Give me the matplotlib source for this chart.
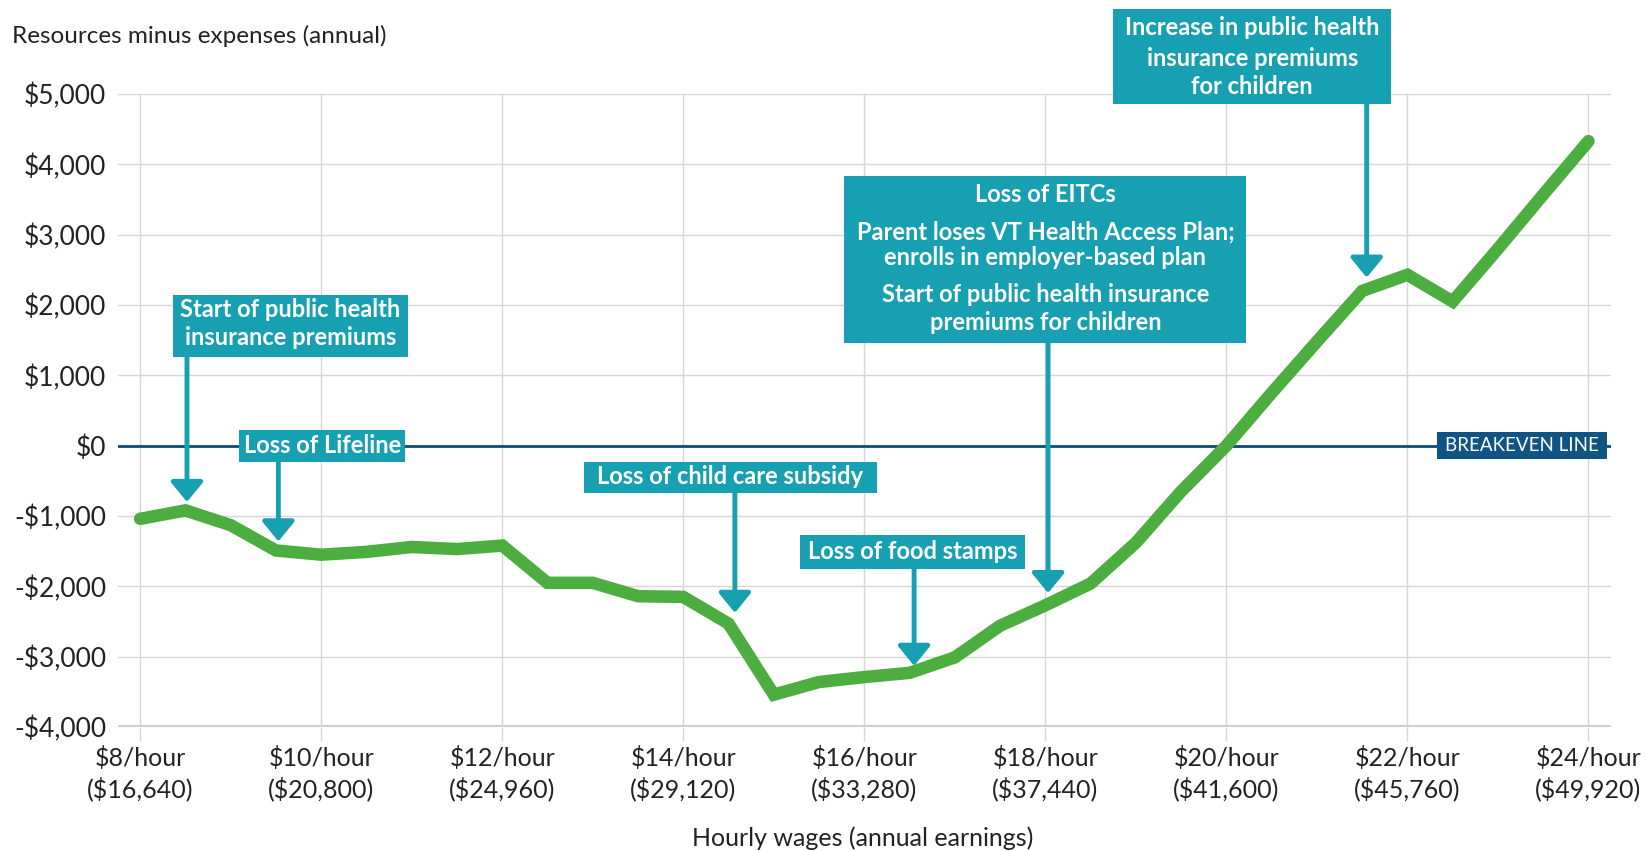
import matplotlib.pyplot as plt
from matplotlib.patches import Rectangle

# hourly wage steps and resources minus expenses (annual, $)
wages = [8.0, 8.5, 9.0, 9.5, 10.0, 10.5, 11.0, 11.5, 12.0, 12.5, 13.0, 13.5,
         14.0, 14.5, 15.0, 15.5, 16.0, 16.5, 17.0, 17.5, 18.0, 18.5, 19.0,
         19.5, 20.0, 20.5, 21.0, 21.5, 22.0, 22.5, 23.0, 23.5, 24.0]
net = [-1040, -920, -1130, -1490, -1550, -1510, -1440, -1470, -1420, -1950,
       -1950, -2140, -2150, -2530, -3540, -3360, -3290, -3230, -3010, -2560,
       -2270, -1960, -1380, -650, 0, 750, 1480, 2200, 2430, 2050, 2800,
       3570, 4330]

tick_wages = [8, 10, 12, 14, 16, 18, 20, 22, 24]
tick_labels = ['$8/hour\n($16,640)', '$10/hour\n($20,800)', '$12/hour\n($24,960)',
               '$14/hour\n($29,120)', '$16/hour\n($33,280)', '$18/hour\n($37,440)',
               '$20/hour\n($41,600)', '$22/hour\n($45,760)', '$24/hour\n($49,920)']
y_ticks = [5000, 4000, 3000, 2000, 1000, 0, -1000, -2000, -3000, -4000]
y_labels = ['$5,000', '$4,000', '$3,000', '$2,000', '$1,000', '$0',
            '-$1,000', '-$2,000', '-$3,000', '-$4,000']

TEAL = '#17a0b2'
GREEN = '#4cae3f'
NAVY = '#0f5483'
GRID = '#d6d6d6'

plt.rcParams['font.family'] = ['Lato', 'DejaVu Sans']

fig = plt.figure(figsize=(16.46, 8.51), dpi=100)
ax = fig.add_axes([0.0714, 0.1457, 0.9074, 0.7438])

ax.set_xlim(7.75, 24.25)
ax.set_ylim(-4000, 5000)
for s in ax.spines.values():
    s.set_visible(False)

ax.set_xticks(tick_wages)
ax.set_xticklabels(tick_labels, fontsize=18, color='#222222', linespacing=1.3)
ax.set_yticks(y_ticks)
ax.set_yticklabels(y_labels, fontsize=19, color='#222222')
ax.tick_params(axis='x', length=10, color=GRID, width=1, pad=4)
ax.tick_params(axis='y', length=0, pad=8)
ax.grid(True, color=GRID, linewidth=1)
ax.set_axisbelow(True)
ax.axhline(-4000, color='#cfcfcf', linewidth=3, zorder=1)

# breakeven line
ax.axhline(0, color='#0d4c73', linewidth=2, zorder=2)

ax.plot(wages, net, color=GREEN, linewidth=9, solid_joinstyle='miter',
        solid_capstyle='round', zorder=5, clip_on=False)


def callout(x0, x1, y0, y1, lines, arrow_x, tip_y):
    ax.add_patch(Rectangle((x0, y1), x1 - x0, y0 - y1, facecolor=TEAL,
                           edgecolor='none', zorder=6, clip_on=False))
    cx = (x0 + x1) / 2
    for text, ty in lines:
        ax.text(cx, ty, text, color='white', fontsize=17, fontweight='bold',
                ha='center', va='center', zorder=7, clip_on=False)
    ax.annotate('', xy=(arrow_x, tip_y), xytext=(arrow_x, y1),
                arrowprops=dict(arrowstyle='-|>,head_length=0.55,head_width=0.45',
                                color=TEAL, lw=3.5, shrinkA=0, shrinkB=0,
                                mutation_scale=22),
                zorder=6, annotation_clip=False)


callout(8.365, 10.954, 2148, 1266,
        [('Start of public health', 1935), ('insurance premiums', 1536)],
        8.517, -800)
callout(9.095, 10.93, 228, -228, [('Loss of Lifeline', 0)], 9.527, -1360)
callout(12.90, 16.14, -228, -669, [('Loss of child care subsidy', -441)],
        14.57, -2376)
callout(15.29, 17.77, -1266, -1750, [('Loss of food stamps', -1508)],
        16.55, -3130)
callout(15.78, 20.22, 3841, 1465,
        [('Loss of EITCs', 3570),
         ('Parent loses VT Health Access Plan;', 3044),
         ('enrolls in employer-based plan', 2674),
         ('Start of public health insurance', 2148),
         ('premiums for children', 1750)],
        18.03, -2095)
callout(18.75, 21.82, 6202, 4865,
        [('Increase in public health', 5946), ('insurance premiums', 5505),
         ('for children', 5107)],
        21.55, 2390)

# breakeven label
ax.add_patch(Rectangle((22.33, -185), 1.88, 384, facecolor=NAVY,
                       edgecolor='none', zorder=6, clip_on=False))
ax.text(23.27, 0, 'BREAKEVEN LINE', color='white', fontsize=13.5,
        ha='center', va='center', zorder=7)

fig.text(12 / 1646, 1 - 36 / 851, 'Resources minus expenses (annual)',
         fontsize=17.5, color='#222222', ha='left', va='center')
fig.text(863 / 1646, 1 - 838 / 851, 'Hourly wages (annual earnings)',
         fontsize=18, color='#222222', ha='center', va='center')

fig.savefig('out.png', dpi=100)
